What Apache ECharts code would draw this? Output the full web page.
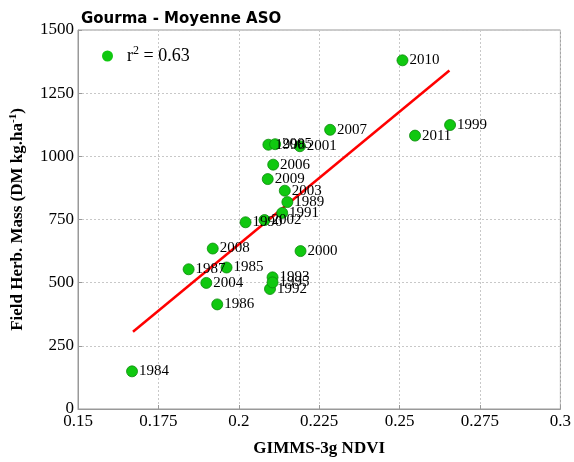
<!DOCTYPE html>
<html>
<head>
<meta charset="utf-8">
<script src="https://cdn.jsdelivr.net/npm/echarts@6/dist/echarts.min.js"></script>
<style>
    html, body { margin: 0; padding: 0; background: #fff; }
    #chart { width: 574px; height: 462px; }
</style>
</head>
<body>
<div id="chart"></div>
<script>
// years and values
var years = ['1984', '1985', '1986', '1987', '1989', '1990', '1991', '1992', '1993', '1995',
    '1998', '2005', '2001', '2006', '2009', '2003', '2002', '2000', '2004', '2008',
    '2007', '2010', '1999', '2011'];
var ndvi = [0.1668, 0.1962, 0.1933, 0.1844, 0.2151, 0.2021, 0.2135, 0.2097, 0.2105, 0.2105,
    0.2092, 0.2113, 0.2190, 0.2107, 0.2090, 0.2143, 0.2080, 0.2192, 0.1899, 0.1919,
    0.2284, 0.2509, 0.2657, 0.2548];
var mass = [149, 560, 414, 553, 819, 739, 776, 475, 521, 501,
    1046, 1048, 1040, 967, 910, 864, 748, 625, 499, 635,
    1105, 1380, 1124, 1082];

// regression line end points
var fitX = [0.1671, 0.2655];
var fitY = [306, 1340];

var serif = '"Liberation Serif", "DejaVu Serif", serif';

var chart = echarts.init(document.getElementById('chart'));

/**
 * build point list
 */
var points = [];
for (var i = 0; i < years.length; i++) {
    points.push({value: [ndvi[i], mass[i]], name: years[i]});
}
var fitLine = [];
for (var j = 0; j < fitX.length; j++) {
    fitLine.push([fitX[j], fitY[j]]);
}

chart.setOption({
    animation: false,
    title: {
        text: 'Gourma - Moyenne ASO',
        left: 76,
        top: 7,
        textStyle: {
            fontFamily: '"DejaVu Sans", sans-serif',
            fontWeight: 'bold',
            fontSize: 15,
            color: '#000'
        }
    },
    legend: {
        left: 97,
        top: 40,
        icon: 'circle',
        itemWidth: 11,
        itemHeight: 11,
        itemGap: 6,
        itemStyle: {borderWidth: 0},
        data: ['r2'],
        formatter: function () {
            return 'r{sup|2} = 0.63';
        },
        textStyle: {
            fontFamily: serif,
            fontSize: 18,
            color: '#000',
            padding: [0, 0, 0, 9],
            rich: {
                sup: {fontFamily: serif, fontSize: 12, verticalAlign: 'top', padding: [0, 0, 10, 0]}
            }
        }
    },
    grid: {
        left: 76,
        right: 10,
        top: 30,
        bottom: 49,
        show: true,
        borderColor: '#999',
        borderWidth: 1
    },
    xAxis: {
        type: 'value',
        min: 0.15,
        max: 0.3,
        interval: 0.025,
        name: 'GIMMS-3g NDVI',
        nameLocation: 'middle',
        nameGap: 31,
        nameTextStyle: {fontFamily: serif, fontWeight: 'bold', fontSize: 17, color: '#000'},
        axisLine: {lineStyle: {color: '#999'}},
        axisTick: {inside: true, length: 4, lineStyle: {color: '#999'}},
        axisLabel: {fontFamily: serif, fontSize: 17, color: '#000', margin: 4},
        splitLine: {lineStyle: {color: '#c8c8c8', type: [2, 2]}}
    },
    yAxis: {
        type: 'value',
        min: 0,
        max: 1500,
        interval: 250,
        name: 'Field Herb. Mass (DM kg.ha{sup|-1})',
        nameLocation: 'middle',
        nameGap: 50,
        nameTextStyle: {
            fontFamily: serif, fontWeight: 'bold', fontSize: 17, color: '#000',
            rich: {
                sup: {fontFamily: serif, fontWeight: 'bold', fontSize: 11, verticalAlign: 'top', padding: [0, 0, 9, 0]}
            }
        },
        axisLine: {lineStyle: {color: '#999'}},
        axisTick: {inside: true, length: 4, lineStyle: {color: '#999'}},
        axisLabel: {
            fontFamily: serif, fontSize: 17, color: '#000', margin: 4,
            formatter: function (v) { return String(v); }
        },
        splitLine: {lineStyle: {color: '#c8c8c8', type: [2, 2]}}
    },
    series: [
        {
            name: 'fit',
            type: 'line',
            data: fitLine,
            symbol: 'none',
            lineStyle: {color: '#ff0000', width: 2.5},
            z: 3
        },
        {
            name: 'r2',
            type: 'scatter',
            data: points,
            symbolSize: 11,
            itemStyle: {color: '#10c810', borderColor: '#0a8a0a', borderWidth: 0.8, opacity: 1},
            label: {
                show: true,
                position: 'right',
                distance: 1,
                formatter: '{b}',
                fontFamily: serif,
                fontSize: 15,
                color: '#000'
            },
            z: 4
        }
    ]
});
</script>
</body>
</html>
